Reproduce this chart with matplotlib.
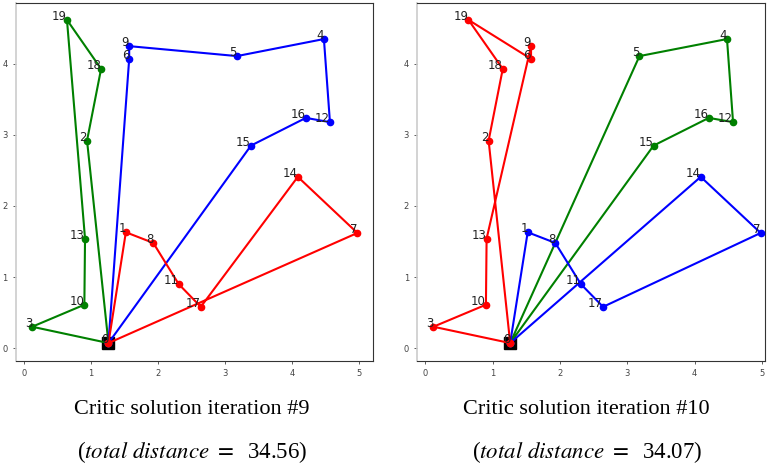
import matplotlib
matplotlib.use("Agg")
import matplotlib.pyplot as plt

# node coordinates (node 0 is the depot)
node_x = [1.26, 1.52, 0.94, 0.12, 4.48, 3.18, 1.57, 4.98, 1.93, 1.57,
          0.90, 2.31, 4.57, 0.91, 4.09, 3.39, 4.21, 2.64, 1.15, 0.64]
node_y = [0.07, 1.63, 2.92, 0.30, 4.35, 4.11, 4.07, 1.62, 1.48, 4.25,
          0.61, 0.90, 3.18, 1.54, 2.41, 2.85, 3.24, 0.58, 3.93, 4.62]

# routes for each iteration
routes_it9 = [
    ("green", [0, 3, 10, 13, 19, 18, 2, 0]),
    ("blue", [0, 6, 9, 5, 4, 12, 16, 15, 0]),
    ("red", [0, 1, 8, 11, 17, 14, 7, 0]),
]
routes_it10 = [
    ("green", [0, 5, 4, 12, 16, 15, 0]),
    ("blue", [0, 1, 8, 11, 17, 7, 14, 0]),
    ("red", [0, 3, 10, 13, 9, 6, 19, 18, 2, 0]),
]

captions = ["Critic solution iteration #9", "Critic solution iteration #10"]
distances = ["34.56", "34.07"]

plt.rcParams["mathtext.fontset"] = "stix"

fig = plt.figure(figsize=(7.67, 4.68), dpi=100)
ax1 = fig.add_axes([0.021, 0.229, 0.465, 0.765])
ax2 = fig.add_axes([0.544, 0.229, 0.453, 0.765])


def draw(ax, routes):
    ax.plot(node_x[0], node_y[0], "s", color="black", markersize=8, zorder=2)
    for color, route in routes:
        xs = [node_x[i] for i in route]
        ys = [node_y[i] for i in route]
        ax.plot(xs, ys, "-o", color=color, linewidth=1.5, markersize=4.5, zorder=3)
    for i in range(len(node_x)):
        ax.text(node_x[i], node_y[i], str(i), ha="right", va="baseline",
                fontsize=8.5, color="#222222", zorder=4)
    ax.set_xticks([0, 1, 2, 3, 4, 5])
    ax.set_yticks([0, 1, 2, 3, 4])
    ax.tick_params(labelsize=6, colors="#444444", length=2.5, width=0.6)
    for side in ["top", "right", "bottom"]:
        ax.spines[side].set_color("#333333")
        ax.spines[side].set_linewidth(0.8)
    ax.spines["left"].set_color("#cccccc")
    ax.spines["left"].set_linewidth(1.2)
    ax.set_ylim(-0.18, 4.86)


draw(ax1, routes_it9)
draw(ax2, routes_it10)
ax1.set_xlim(-0.12, 5.21)
ax2.set_xlim(-0.12, 5.04)

for k, cx in enumerate([0.250, 0.765]):
    fig.text(cx, 0.125, captions[k], ha="center", va="center",
             fontsize=16, family="Liberation Serif")
    fig.text(cx, 0.035, r"($\mathit{total\ distance}\ =\ \ $" + distances[k] + ")",
             ha="center", va="center", fontsize=16.5, family="Liberation Serif")

fig.savefig("out.png", dpi=100)
